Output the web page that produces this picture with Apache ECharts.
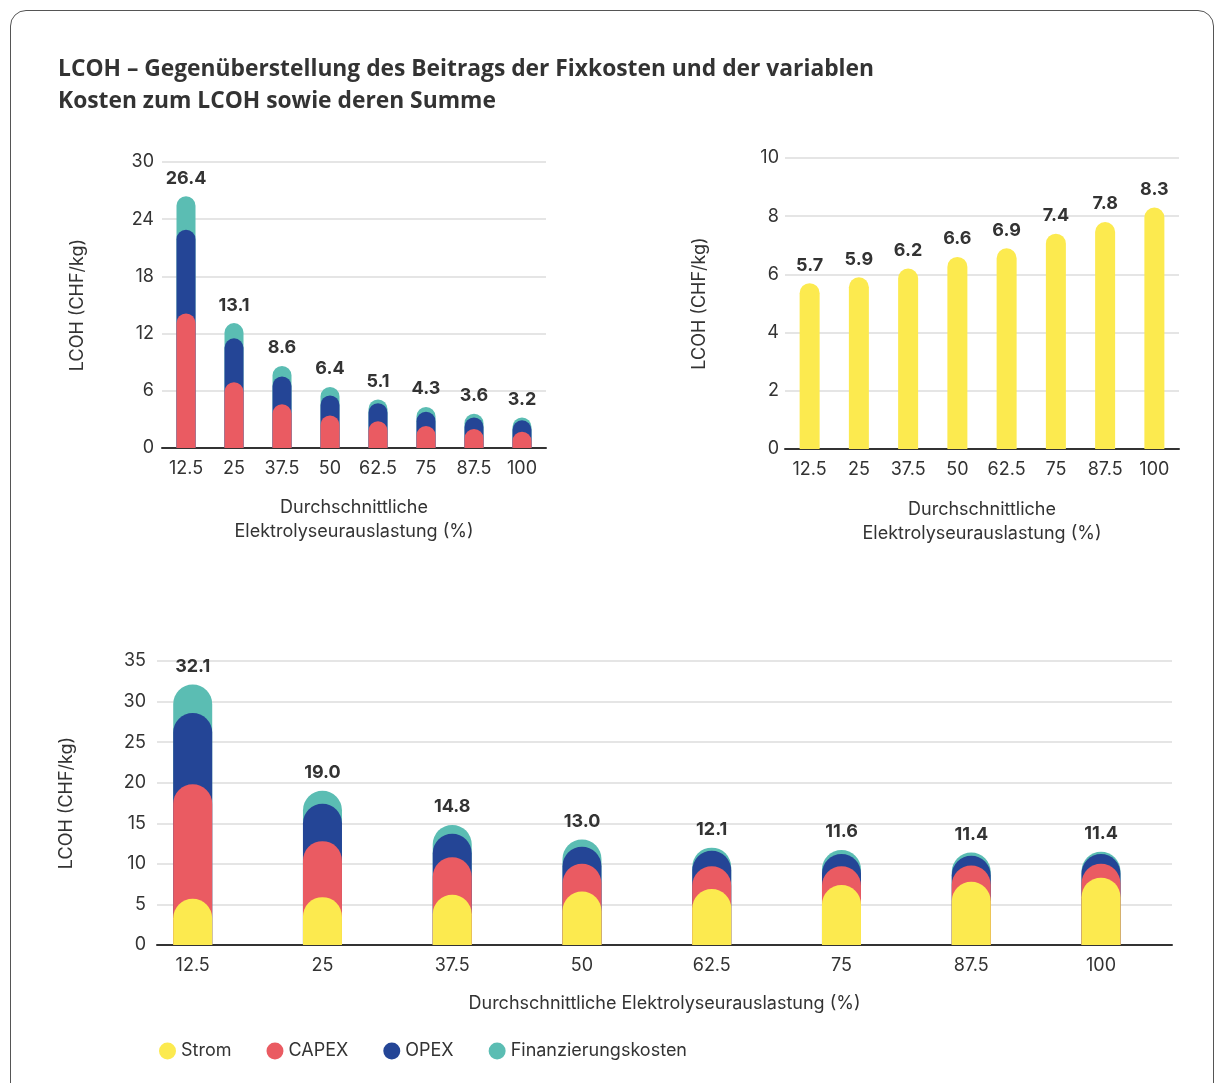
<!DOCTYPE html>
<html>
<head>
<meta charset="utf-8">
<script src="https://cdn.jsdelivr.net/npm/echarts@6.0.0/dist/echarts.min.js"></script>
<style>
html,body{margin:0;padding:0;background:#fff;}
#rahmen{position:absolute;left:10px;top:10px;width:1202px;height:1100px;border:1.5px solid #555;border-radius:16px;}
#main{position:absolute;left:0;top:0;width:1215px;height:1083px;}
</style>
</head>
<body>
<div id="rahmen"></div>
<div id="main"></div>
<script>
// Auslastung (%) als Kategorien bzw. Werte
var auslastung = ['12.5', '25', '37.5', '50', '62.5', '75', '87.5', '100'];
var auslastungWert = [12.5, 25, 37.5, 50, 62.5, 75, 87.5, 100];

// LCOH-Anteile (CHF/kg)
var strom = [5.7, 5.9, 6.2, 6.6, 6.9, 7.4, 7.8, 8.3];
var capex = [14.1, 6.9, 4.6, 3.4, 2.8, 2.3, 2.0, 1.7];
var opex = [8.8, 4.6, 2.9, 2.1, 1.9, 1.5, 1.2, 1.2];
var finanz = [3.5, 1.6, 1.1, 0.9, 0.4, 0.5, 0.4, 0.3];

// Beschriftungen (Summen)
var summeFix = [26.4, 13.1, 8.6, 6.4, 5.1, 4.3, 3.6, 3.2];
var summeGesamt = [32.1, 19.0, 14.8, 13.0, 12.1, 11.6, 11.4, 11.4];

var farben = {
    Strom: '#FCEA4F',
    CAPEX: '#EA5B62',
    OPEX: '#244596',
    Finanzierungskosten: '#5BBDB3'
};

var schrift = 'Inter, "Liberation Sans", Arial, sans-serif';
var textFarbe = '#333';

// Summe der Reihen bis zur jeweiligen Schicht
function kumuliert(reihen) {
    return reihen[0].map(function (_, i) {
        var s = 0;
        for (var k = 0; k < reihen.length; k++) s += reihen[k][i];
        return Math.round(s * 100) / 100;
    });
}
function mitX(werte) {
    return werte.map(function (v, i) { return [auslastungWert[i], v]; });
}

function balken(name, daten, xi, breite, labels) {
    var s = {
        name: name,
        type: 'bar',
        xAxisIndex: xi,
        yAxisIndex: xi,
        data: daten,
        barWidth: breite,
        barGap: '-100%',
        itemStyle: {
            color: farben[name],
            borderRadius: [breite / 2, breite / 2, 0, 0]
        },
        emphasis: { disabled: true }
    };
    if (labels) {
        s.label = {
            show: true,
            position: 'top',
            distance: 9,
            fontFamily: schrift,
            fontWeight: 'bold',
            fontSize: 18,
            color: textFarbe,
            formatter: function (p) { return labels[p.dataIndex].toFixed(1); }
        };
    }
    return s;
}

function yAchse(gi, max, intervall, gap, marge) {
    return {
        type: 'value',
        gridIndex: gi,
        min: 0,
        max: max,
        interval: intervall,
        name: 'LCOH (CHF/kg)',
        nameLocation: 'middle',
        nameGap: gap,
        nameTextStyle: { fontFamily: schrift, fontSize: 18, color: textFarbe },
        axisLine: { show: false },
        axisTick: { show: false },
        axisLabel: { fontFamily: schrift, fontSize: 18, color: textFarbe, margin: marge },
        splitLine: { lineStyle: { color: '#dcdcdc', width: 1.5 } }
    };
}

var achsenLinie = { show: true, lineStyle: { color: '#333', width: 2 } };
var achsenText = { fontFamily: schrift, fontSize: 18, color: textFarbe };

var chart = echarts.init(document.getElementById('main'));
chart.setOption({
    animation: false,
    title: {
        text: 'LCOH – Gegenüberstellung des Beitrags der Fixkosten und der variablen\nKosten zum LCOH sowie deren Summe',
        left: 53,
        top: 49,
        textStyle: {
            fontFamily: '"Open Sans", sans-serif',
            fontWeight: 'bold',
            fontSize: 22.8,
            lineHeight: 32,
            color: '#333'
        }
    },
    legend: {
        data: ['Strom', 'CAPEX', 'OPEX', 'Finanzierungskosten'],
        left: 154,
        top: 1037,
        icon: 'circle',
        itemWidth: 17,
        itemHeight: 17,
        itemGap: 35,
        textStyle: { fontFamily: schrift, fontSize: 18, color: textFarbe }
    },
    grid: [
        { left: 162, top: 162, width: 384, height: 286, outerBoundsMode: 'none' },
        { left: 785, top: 158, width: 394, height: 291, outerBoundsMode: 'none' },
        { left: 157, top: 661, width: 1015, height: 284, outerBoundsMode: 'none' }
    ],
    xAxis: [
        {
            type: 'category', gridIndex: 0, data: auslastung,
            axisLine: achsenLinie, axisTick: { show: false },
            axisLabel: Object.assign({ margin: 12, interval: 0 }, achsenText),
            name: 'Durchschnittliche\nElektrolyseurauslastung (%)',
            nameLocation: 'middle', nameGap: 48,
            nameTextStyle: { fontFamily: schrift, fontSize: 18, color: textFarbe, lineHeight: 24 }
        },
        {
            type: 'category', gridIndex: 1, data: auslastung,
            axisLine: achsenLinie, axisTick: { show: false },
            axisLabel: Object.assign({ margin: 12, interval: 0 }, achsenText),
            name: 'Durchschnittliche\nElektrolyseurauslastung (%)',
            nameLocation: 'middle', nameGap: 49,
            nameTextStyle: { fontFamily: schrift, fontSize: 18, color: textFarbe, lineHeight: 24 }
        },
        {
            type: 'value', gridIndex: 2, min: 9.06, max: 106.84,
            axisLine: achsenLinie, axisTick: { show: false },
            splitLine: { show: false },
            axisLabel: Object.assign({ margin: 12, customValues: auslastungWert }, achsenText),
            name: 'Durchschnittliche Elektrolyseurauslastung (%)',
            nameLocation: 'middle', nameGap: 50,
            nameTextStyle: { fontFamily: schrift, fontSize: 18, color: textFarbe }
        }
    ],
    yAxis: [
        yAchse(0, 30, 6, 75, 8),
        yAchse(1, 10, 2, 76, 6),
        yAchse(2, 35, 5, 81, 11)
    ],
    series: [
        // oben links: Fixkosten
        balken('Finanzierungskosten', kumuliert([capex, opex, finanz]), 0, 19, summeFix),
        balken('OPEX', kumuliert([capex, opex]), 0, 19),
        balken('CAPEX', capex, 0, 19),
        // oben rechts: variable Kosten
        balken('Strom', strom, 1, 20, strom),
        // unten: Summe
        balken('Finanzierungskosten', mitX(kumuliert([strom, capex, opex, finanz])), 2, 39, summeGesamt),
        balken('OPEX', mitX(kumuliert([strom, capex, opex])), 2, 39),
        balken('CAPEX', mitX(kumuliert([strom, capex])), 2, 39),
        balken('Strom', mitX(strom), 2, 39)
    ]
});
</script>
</body>
</html>
